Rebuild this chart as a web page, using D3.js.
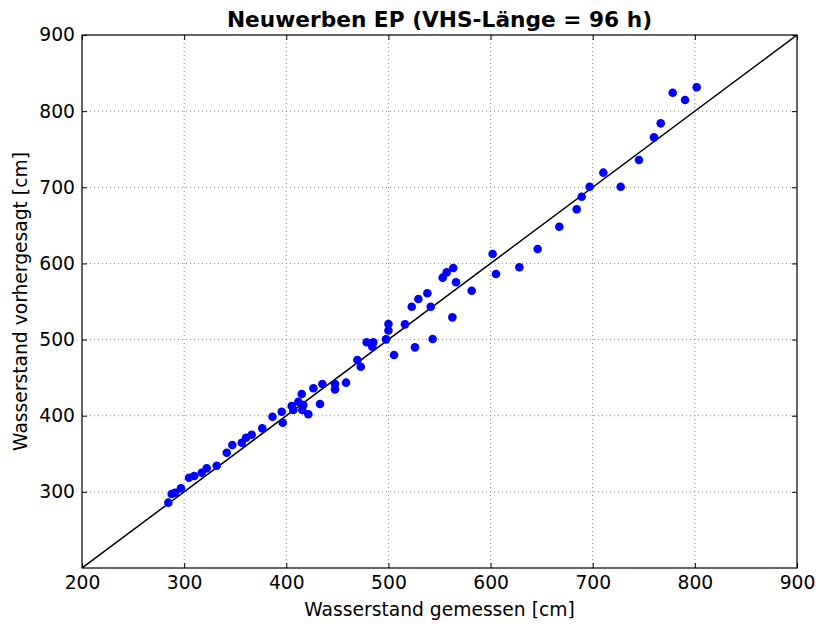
<!DOCTYPE html>
<html>
<head>
<meta charset="utf-8">
<script src="https://cdn.jsdelivr.net/npm/d3@7"></script>
<style>
  html, body { margin: 0; padding: 0; background: #fff; }
  text { font-family: "DejaVu Sans", sans-serif; }
</style>
</head>
<body>
<svg id="chart" width="816" height="628"></svg>
<script>
const titleText = "Neuwerben EP (VHS-Länge = 96 h)";
const xLabel = "Wasserstand gemessen [cm]";
const yLabel = "Wasserstand vorhergesagt [cm]";
const xTicks = [200, 300, 400, 500, 600, 700, 800, 900];
const yTicks = [300, 400, 500, 600, 700, 800, 900];
const gemessen = [284.5, 287.8, 291.1, 296.9, 304.8, 309.9, 317.2, 322.1, 331.9, 341.7,
  347.2, 356.4, 360.6, 366.1, 376.5, 386.5, 395.5, 396.5, 405.3, 406.9,
  411.8, 415.1, 416.7, 415.7, 421.6, 426.5, 433.0, 435.3, 447.7, 447.7,
  458.5, 469.6, 472.9, 478.7, 485.2, 484.2, 497.6, 500.0, 500.0, 505.5,
  516.2, 522.8, 526.0, 529.3, 538.1, 541.4, 543.3, 553.1, 557.0, 563.5,
  566.2, 562.6, 581.5, 602.0, 605.3, 628.2, 646.1, 667.3, 684.3, 689.2,
  697.0, 710.4, 727.4, 745.3, 760.0, 766.6, 778.3, 790.4, 801.8];
const vorhergesagt = [285.8, 297.2, 298.9, 304.6, 318.6, 320.8, 325.1, 330.9, 334.3, 351.4,
  361.5, 364.5, 371.1, 375.0, 383.4, 398.7, 405.3, 390.8, 412.7, 407.5,
  418.4, 428.5, 414.0, 407.5, 401.9, 436.0, 415.4, 441.6, 441.6, 434.6,
  443.4, 473.2, 464.4, 496.4, 496.4, 490.6, 500.3, 512.0, 520.4, 479.7,
  520.0, 543.2, 489.8, 553.3, 560.8, 543.2, 500.7, 581.3, 588.3, 594.0,
  575.2, 529.2, 564.2, 612.4, 586.1, 594.9, 618.9, 648.2, 671.1, 687.6,
  700.8, 719.2, 700.8, 735.8, 765.6, 784.0, 824.2, 814.6, 831.3];
const diagonal = [200, 900];

const svg = d3.select("#chart");
const m = {left: 82, right: 797, top: 35, bottom: 568};
const x = d3.scaleLinear().domain([200, 900]).range([m.left, m.right]);
const y = d3.scaleLinear().domain([200, 900]).range([m.bottom, m.top]);

svg.append("defs").append("clipPath").attr("id", "clip")
  .append("rect").attr("x", m.left).attr("y", m.top)
  .attr("width", m.right - m.left).attr("height", m.bottom - m.top);

// grid
const grid = svg.append("g");
xTicks.slice(1, -1).forEach(t => {
  grid.append("line").attr("x1", x(t)).attr("x2", x(t)).attr("y1", m.top).attr("y2", m.bottom)
    .attr("stroke", "#888").attr("stroke-width", 1).attr("stroke-dasharray", "1,3");
});
yTicks.slice(0, -1).forEach(t => {
  grid.append("line").attr("y1", y(t)).attr("y2", y(t)).attr("x1", m.left).attr("x2", m.right)
    .attr("stroke", "#888").attr("stroke-width", 1).attr("stroke-dasharray", "1,3");
});

// diagonal
const plot = svg.append("g").attr("clip-path", "url(#clip)");
plot.append("line")
  .attr("x1", x(diagonal[0])).attr("y1", y(diagonal[0]))
  .attr("x2", x(diagonal[1])).attr("y2", y(diagonal[1]))
  .attr("stroke", "#000").attr("stroke-width", 1.5);

// points
plot.selectAll("circle").data(gemessen.map((g, i) => [g, vorhergesagt[i]]))
  .join("circle")
  .attr("cx", d => x(d[0])).attr("cy", d => y(d[1])).attr("r", 4.3)
  .attr("fill", "#0000ff");

// axes (ticks inside)
const fs = 18.7;
const axB = svg.append("g").attr("transform", `translate(0,${m.bottom})`)
  .call(d3.axisBottom(x).tickValues(xTicks).tickSizeInner(-5).tickSizeOuter(0).tickPadding(8));
const axT = svg.append("g").attr("transform", `translate(0,${m.top})`)
  .call(d3.axisTop(x).tickValues(xTicks).tickSizeInner(-5).tickSizeOuter(0).tickFormat(""));
const axL = svg.append("g").attr("transform", `translate(${m.left},0)`)
  .call(d3.axisLeft(y).tickValues(yTicks).tickSizeInner(-5).tickSizeOuter(0).tickPadding(7));
const axR = svg.append("g").attr("transform", `translate(${m.right},0)`)
  .call(d3.axisRight(y).tickValues(yTicks).tickSizeInner(-5).tickSizeOuter(0).tickFormat(""));
[axB, axT, axL, axR].forEach(a => {
  a.select(".domain").remove();
  a.selectAll(".tick line").attr("stroke", "#000").attr("stroke-width", 1);
  a.selectAll(".tick text").attr("font-size", fs).attr("fill", "#000")
    .attr("font-family", "DejaVu Sans, sans-serif");
});

// frame
svg.append("rect").attr("x", m.left).attr("y", m.top)
  .attr("width", m.right - m.left).attr("height", m.bottom - m.top)
  .attr("fill", "none").attr("stroke", "#000").attr("stroke-width", 1.2);

// labels
svg.append("text").attr("x", (m.left + m.right) / 2).attr("y", 27)
  .attr("text-anchor", "middle").attr("font-weight", "bold").attr("font-size", 21.7)
  .text(titleText);
svg.append("text").attr("x", (m.left + m.right) / 2).attr("y", 616)
  .attr("text-anchor", "middle").attr("font-size", fs).text(xLabel);
svg.append("text").attr("transform", `translate(27,${(m.top + m.bottom) / 2}) rotate(-90)`)
  .attr("text-anchor", "middle").attr("font-size", fs).text(yLabel);
</script>
</body>
</html>
